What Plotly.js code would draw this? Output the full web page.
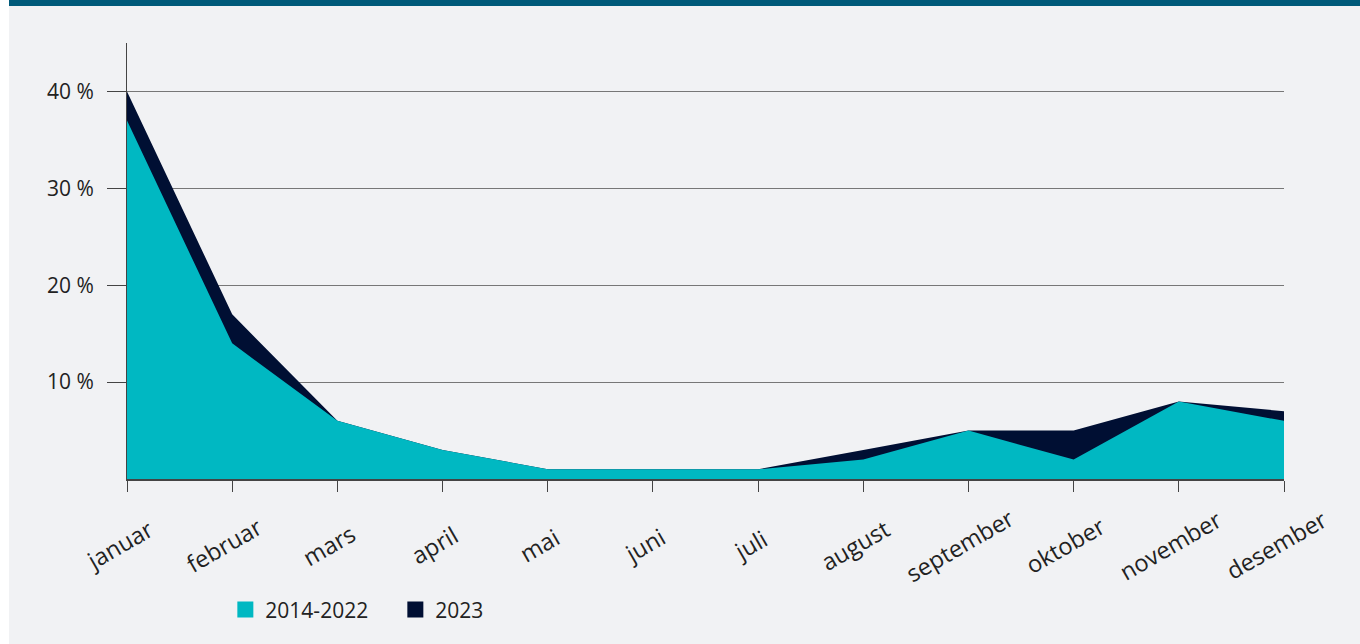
<!DOCTYPE html>
<html>
<head>
<meta charset="utf-8">
<script src="https://cdn.plot.ly/plotly-3.0.1.min.js"></script>
<style>
html,body{margin:0;padding:0;background:#ffffff;width:1360px;height:644px;overflow:hidden;}
#wrap{position:absolute;left:9px;top:0;width:1351px;height:644px;background:#f1f2f4;}
#banner{position:absolute;left:0;top:0;width:1351px;height:6px;background:#005a7a;}
#chart{position:absolute;left:0;top:0;width:1351px;height:644px;}
</style>
</head>
<body>
<div id="wrap"><div id="chart"></div><div id="banner"></div></div>
<script>
const months = ["januar","februar","mars","april","mai","juni","juli","august","september","oktober","november","desember"];
const series2014_2022 = [37, 14, 6, 3, 1, 1, 1, 2, 5, 2, 8, 6];
const series2023 = [40, 17, 6, 3, 1, 1, 1, 3, 5, 5, 8, 7];
const yTickVals = [10, 20, 30, 40];
const yTickText = ["10 %", "20 %", "30 %", "40 %"];
const seriesNames = ["2014-2022", "2023"];
const seriesColors = ["#00b8c2", "#000f33"];

const font = "Open Sans, Noto Sans, sans-serif";
const fsize = 21;

const traces = [
  {
    x: months, y: series2023, name: seriesNames[1], type: "scatter", mode: "lines",
    fill: "tozeroy", fillcolor: seriesColors[1], line: {width: 0, color: seriesColors[1]},
    showlegend: false
  },
  {
    x: months, y: series2014_2022, name: seriesNames[0], type: "scatter", mode: "lines",
    fill: "tozeroy", fillcolor: seriesColors[0], line: {width: 0, color: seriesColors[0]},
    showlegend: false
  },
  {
    x: [null], y: [null], name: seriesNames[0], type: "scatter", mode: "markers",
    marker: {symbol: "square", size: 16, color: seriesColors[0]}, showlegend: true
  },
  {
    x: [null], y: [null], name: seriesNames[1], type: "scatter", mode: "markers",
    marker: {symbol: "square", size: 16, color: seriesColors[1]}, showlegend: true
  }
];

const annotations = months.map(m => ({
  x: m, y: 0, xref: "x", yref: "paper", text: m, showarrow: false,
  xanchor: "center", yanchor: "middle", textangle: -30,
  xshift: -8, yshift: -66,
  font: {family: font, size: 23.5, color: "#222222"}
}));

const layout = {
  width: 1351, height: 644,
  paper_bgcolor: "#f1f2f4", plot_bgcolor: "#f1f2f4",
  margin: {l: 118, r: 76, t: 43, b: 165},
  font: {family: font, size: fsize, color: "#222222"},
  showlegend: true,
  legend: {
    orientation: "h", x: 0.085, y: -0.3, xanchor: "left", yanchor: "middle",
    font: {family: font, size: fsize, color: "#222222"}, bgcolor: "rgba(0,0,0,0)",
    traceorder: "normal", entrywidth: 125, entrywidthmode: "pixels"
  },
  annotations: annotations,
  xaxis: {
    type: "category", range: [0, 11], showgrid: false, zeroline: false,
    showline: true, linecolor: "#444444", linewidth: 2,
    ticks: "outside", ticklen: 11, tickcolor: "#444444", tickwidth: 1,
    showticklabels: false
  },
  yaxis: {
    range: [0, 45], tickvals: yTickVals, ticktext: yTickText,
    showgrid: true, gridcolor: "#777777", gridwidth: 1, zeroline: false,
    showline: true, linecolor: "#444444", linewidth: 1,
    ticks: "outside", ticklen: 19, tickcolor: "#444444", tickwidth: 1,
    ticklabelstandoff: 9,
    tickfont: {family: font, size: fsize, color: "#222222"}
  }
};

Plotly.newPlot("chart", traces, layout, {displayModeBar: false, staticPlot: true});
</script>
</body>
</html>
